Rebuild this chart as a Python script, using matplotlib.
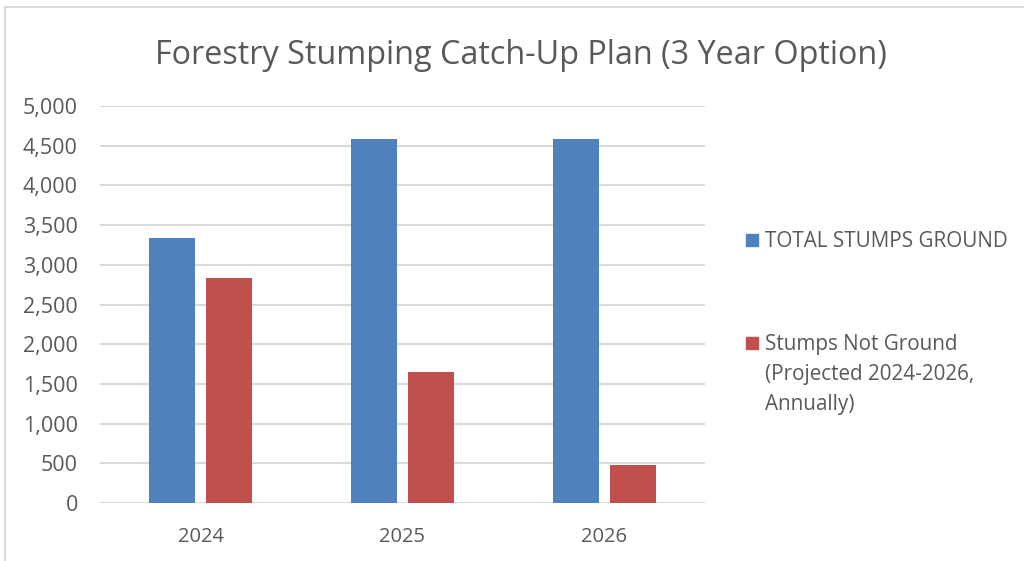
import matplotlib.pyplot as plt
import numpy as np
from matplotlib.patches import Rectangle

# Datos del grafico
years = ['2024', '2025', '2026']
total_ground = [3340, 4580, 4580]
not_ground = [2830, 1650, 475]
series_labels = ['TOTAL STUMPS GROUND',
                 'Stumps Not Ground\n(Projected 2024-2026,\nAnnually)']
y_ticks = [0, 500, 1000, 1500, 2000, 2500, 3000, 3500, 4000, 4500, 5000]

blue = '#4F81BD'
red = '#C0504D'
txt = '#595959'
grid = '#D9D9D9'

plt.rcParams['font.family'] = ['Open Sans', 'DejaVu Sans']

fig = plt.figure(figsize=(10.24, 5.61), dpi=100)
ax = fig.add_axes([100 / 1024, 1 - 503 / 561, 605 / 1024, 397 / 561])

x = np.arange(len(years))
w = 0.228
ax.bar(x - 0.142, total_ground, width=w, color=blue, zorder=3)
ax.bar(x + 0.142, not_ground, width=w, color=red, zorder=3)

ax.set_xlim(-0.5, 2.5)
ax.set_ylim(0, 5000)
ax.set_yticks(y_ticks)
ax.set_yticklabels([f'{v:,}' for v in y_ticks])
ax.set_xticks(x)
ax.set_xticklabels(years)
ax.tick_params(axis='y', length=0, pad=16, labelsize=15.5, labelcolor=txt)
ax.tick_params(axis='x', length=0, pad=17, labelsize=14.5, labelcolor=txt)
ax.grid(axis='y', color=grid, linewidth=1.5, zorder=0)
for s in ax.spines.values():
    s.set_visible(False)

fig.text(521 / 1024, 1 - 55 / 561, 'Forestry Stumping Catch-Up Plan (3 Year Option)',
         ha='center', va='center', fontsize=23.3, color=txt)

# Leyenda a mano (el cuadro va alineado con la primera linea)
leg_y = [240, 343]
for lab, col, yy in zip(series_labels, [blue, red], leg_y):
    fig.patches.append(Rectangle((746 / 1024, 1 - (yy + 6) / 561), 12 / 1024, 12 / 561,
                                 transform=fig.transFigure, color=col))
    fig.text(765 / 1024, 1 - (yy - 9) / 561, lab, ha='left', va='top',
             fontsize=14.9, color=txt, linespacing=1.57)

# Borde exterior del area del grafico
fig.patches.append(Rectangle((5 / 1024, -0.1), 1.2, 1 - 7 / 561 + 0.1,
                             transform=fig.transFigure, fill=False,
                             edgecolor=grid, linewidth=1.5))

plt.savefig('out.png', dpi=100)
